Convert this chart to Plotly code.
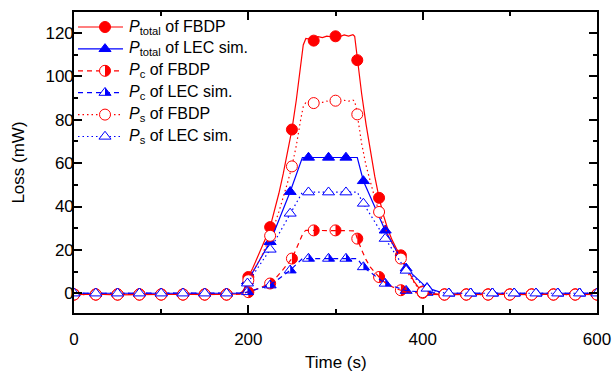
import plotly.graph_objects as go

# ---------------- data ----------------
# marker samples, FBDP (every 25 s)
t_fbdp = [0, 25, 50, 75, 100, 125, 150, 175, 200, 225, 250, 275, 300,
          325, 350, 375, 400, 425, 450, 475, 500, 525, 550, 575, 600]
ptot_fbdp = [-0.6, -0.6, -0.6, -0.6, -0.6, -0.6, -0.6, -0.6, 7.5, 30.5, 75.5, 116.5, 118.5,
             107.5, 44.0, 17.5, 0.8, -0.6, -0.6, -0.6, -0.6, -0.6, -0.6, -0.6, -0.6]
pc_fbdp = [-0.5, -0.5, -0.5, -0.5, -0.5, -0.5, -0.5, -0.5, 0.5, 4.5, 16.0, 29.0, 29.0,
           25.2, 7.5, 1.4, 0.2, -0.5, -0.5, -0.5, -0.5, -0.5, -0.5, -0.5, -0.5]
ps_fbdp = [-0.6, -0.6, -0.6, -0.6, -0.6, -0.6, -0.6, -0.6, 6.0, 26.5, 58.5, 87.7, 88.8,
           82.5, 37.5, 16.0, 0.5, -0.6, -0.6, -0.6, -0.6, -0.6, -0.6, -0.6, -0.6]

# marker samples, LEC simulation
t_lec = [0, 25, 50, 75, 100, 125, 150, 175, 199, 225, 248, 269, 292,
         312, 332, 357, 381, 405, 430, 455, 480, 505, 530, 555, 580, 600]
ptot_lec = [0, 0, 0, 0, 0, 0, 0, 0, 5.5, 23.7, 46.8, 62.6, 62.6,
            62.6, 51.8, 29.0, 11.5, 2.5, 0, 0, 0, 0, 0, 0, 0, 0]
pc_lec = [0, 0, 0, 0, 0, 0, 0, 0, 0.6, 3.7, 10.6, 16.0, 16.0,
          16.0, 12.1, 4.5, 1.2, 0.3, 0, 0, 0, 0, 0, 0, 0, 0]
ps_lec = [0, 0, 0, 0, 0, 0, 0, 0, 4.6, 20.2, 36.8, 46.6, 46.6,
          46.6, 41.4, 25.2, 10.5, 2.2, 0, 0, 0, 0, 0, 0, 0, 0]

# continuous curves, FBDP
tl_fbdp = [0, 25, 50, 75, 100, 125, 150, 175, 190, 195,
           200, 205, 210, 215, 220, 225, 230, 235, 240, 245, 250, 255, 260,
           263, 266,
           270, 275, 280, 285, 290, 295, 300, 305, 310, 315, 320,
           322, 324,
           325, 330, 335, 340, 345, 350, 355, 360, 365, 370, 375, 380, 385, 390, 395, 400, 405, 410,
           425, 450, 475, 500, 525, 550, 575, 600]
ptot_fbdp_line = [-0.6, -0.4, -0.7, -0.5, -0.6, -0.4, -0.6, -0.5, -0.3, 1.5,
                  7.5, 11.5, 16.0, 20.5, 25.5, 30.5, 38.0, 46.0, 55.0, 65.0, 75.5, 89.0, 105.0,
                  114.5, 117.5,
                  117.2, 117.8, 118.3, 117.9, 118.6, 118.3, 118.8, 118.4, 119.1, 118.6, 119.2,
                  118.5, 112.0,
                  107.5, 92.0, 78.0, 65.0, 54.0, 44.0, 36.0, 29.5, 24.5, 20.5, 17.5, 13.0, 9.0, 5.5, 2.8, 0.8, -0.2, -0.5,
                  -0.6, -0.5, -0.7, -0.5, -0.6, -0.4, -0.6, -0.5]
pc_fbdp_line = [-0.5, -0.5, -0.5, -0.5, -0.5, -0.5, -0.5, -0.5, -0.4, 0.1,
                0.5, 1.2, 2.0, 2.8, 3.6, 4.5, 6.3, 8.5, 11.0, 13.5, 16.0, 20.5, 25.5,
                28.0, 29.0,
                29.0, 29.0, 29.1, 29.0, 29.1, 29.0, 29.0, 29.1, 29.0, 29.1, 29.0,
                28.8, 26.5,
                25.2, 20.0, 15.5, 12.0, 9.5, 7.5, 5.5, 4.0, 3.0, 2.0, 1.4, 0.9, 0.5, 0.3, 0.2, 0.1, -0.2, -0.4,
                -0.5, -0.5, -0.5, -0.5, -0.5, -0.5, -0.5, -0.5]
ps_fbdp_line = [-0.6, -0.5, -0.6, -0.5, -0.6, -0.5, -0.6, -0.5, -0.3, 1.0,
                6.0, 9.5, 13.0, 17.0, 21.5, 26.5, 31.5, 37.5, 44.0, 51.0, 58.5, 68.0, 80.0,
                86.0, 88.0,
                87.8, 87.7, 88.3, 88.0, 88.6, 88.4, 88.8, 88.5, 89.0, 88.6, 89.1,
                88.5, 85.0,
                82.5, 69.0, 59.0, 51.0, 44.0, 37.5, 32.0, 27.0, 23.0, 19.5, 16.0, 12.0, 8.0, 4.8, 2.2, 0.5, -0.3, -0.5,
                -0.6, -0.5, -0.6, -0.5, -0.6, -0.5, -0.6, -0.5]

# continuous curves, LEC simulation
tl_lec = [0, 190, 194, 199, 225, 248, 262, 325, 332, 357, 381, 405, 420, 430, 600]
ptot_lec_line = [0, 0, 0.5, 5.5, 23.7, 46.8, 62.6, 62.6, 51.8, 29.0, 11.5, 2.5, 0.5, 0, 0]
pc_lec_line = [0, 0, 0.05, 0.6, 3.7, 10.6, 16.0, 16.0, 12.1, 4.5, 1.2, 0.3, 0.1, 0, 0]
ps_lec_line = [0, 0, 0.4, 4.6, 20.2, 36.8, 46.6, 46.6, 41.4, 25.2, 10.5, 2.2, 0.4, 0, 0]

# axis ticks
x_ticks = [0, 200, 400, 600]
y_ticks = [0, 20, 40, 60, 80, 100, 120]

legend_labels = ["<i>P</i><sub>total</sub> of FBDP", "<i>P</i><sub>total</sub> of LEC sim.",
                 "<i>P</i><sub>c</sub> of FBDP", "<i>P</i><sub>c</sub> of LEC sim.",
                 "<i>P</i><sub>s</sub> of FBDP", "<i>P</i><sub>s</sub> of LEC sim."]

# ---------------- styling ----------------
RED = "#FF0000"
BLUE = "#0000FF"
FONT = "Arial, 'Liberation Sans', sans-serif"
LW = 1.2
CIRC = 11          # marker size (diameter)
TRI = 10.5
DASH = "5px,4px"
DOT = "1.5px,3px"

W, H = 614, 378
ML, MR, MT, MB = 74, 17, 12, 65
PW, PH = W - ML - MR, H - MT - MB


def X(px):
    return (px - ML) / PW


def Y(py):
    return (H - MB - py) / PH


fig = go.Figure()


def add_series(tl, yl, tm, ym, color, dash, symbol, size, fill):
    fig.add_trace(go.Scatter(x=tl, y=yl, mode="lines",
                             line=dict(color=color, width=LW, dash=dash),
                             showlegend=False, hoverinfo="skip"))
    fig.add_trace(go.Scatter(x=tm, y=ym, mode="markers",
                             marker=dict(symbol=symbol, size=size, color=fill,
                                         line=dict(color=color, width=1)),
                             showlegend=False))


TRANSP = "rgba(0,0,0,0)"
add_series(tl_fbdp, ptot_fbdp_line, t_fbdp, ptot_fbdp, RED, "solid", "circle", CIRC, RED)
add_series(tl_lec, ptot_lec_line, t_lec, ptot_lec, BLUE, "solid", "triangle-up", TRI, BLUE)
add_series(tl_fbdp, pc_fbdp_line, t_fbdp, pc_fbdp, RED, DASH, "circle", CIRC, TRANSP)
add_series(tl_lec, pc_lec_line, t_lec, pc_lec, BLUE, DASH, "triangle-up", TRI, TRANSP)
add_series(tl_fbdp, ps_fbdp_line, t_fbdp, ps_fbdp, RED, DOT, "circle", CIRC, "white")
add_series(tl_lec, ps_lec_line, t_lec, ps_lec, BLUE, DOT, "triangle-up", TRI, "white")

# half-filled marker geometry (pixel units, y up)
rc = CIRC / 2.0
k = 0.5523 * rc
HALF_CIRCLE = (f"M0,{rc} C{k:.2f},{rc} {rc},{k:.2f} {rc},0 "
               f"C{rc},{-k:.2f} {k:.2f},{-rc} 0,{-rc} Z")
rt = TRI / 2.0
tw = rt * 2 / 3 ** 0.5
HALF_TRI = f"M0,{rt} L{tw:.2f},{-rt / 2:.2f} L0,{-rt / 2:.2f} Z"
FULL_TRI = f"M{-tw:.2f},{-rt / 2:.2f} L{tw:.2f},{-rt / 2:.2f} L0,{rt} Z"

shapes = []
for tx, vy in zip(t_fbdp, pc_fbdp):
    shapes.append(dict(type="path", xref="x", yref="y", xsizemode="pixel", ysizemode="pixel",
                       xanchor=tx, yanchor=vy, path=HALF_CIRCLE, fillcolor=RED,
                       line=dict(width=0), layer="below"))
for tx, vy in zip(t_lec, pc_lec):
    shapes.append(dict(type="path", xref="x", yref="y", xsizemode="pixel", ysizemode="pixel",
                       xanchor=tx, yanchor=vy, path=HALF_TRI, fillcolor=BLUE,
                       line=dict(width=0), layer="below"))

# ---------------- hand-built legend ----------------
leg_colors = [RED, BLUE, RED, BLUE, RED, BLUE]
leg_dash = ["solid", "solid", DASH, DASH, DOT, DOT]
leg_kind = ["cf", "tf", "ch", "th", "co", "to"]
annotations = []
for i, lab in enumerate(legend_labels):
    py = 27 + 21.9 * i
    c = leg_colors[i]
    shapes.append(dict(type="line", xref="paper", yref="paper", x0=X(78), x1=X(123),
                       y0=Y(py), y1=Y(py), line=dict(color=c, width=LW, dash=leg_dash[i]),
                       layer="above"))
    base = dict(xref="paper", yref="paper", xsizemode="pixel", ysizemode="pixel",
                xanchor=X(105), yanchor=Y(py), layer="above")
    kind = leg_kind[i]
    if kind[0] == "c":
        shapes.append(dict(base, type="circle", x0=-rc, x1=rc, y0=-rc, y1=rc,
                           fillcolor=c if kind[1] == "f" else "white",
                           line=dict(color=c, width=1)))
        if kind[1] == "h":
            shapes.append(dict(base, type="path", path=HALF_CIRCLE, fillcolor=c,
                               line=dict(width=0)))
    else:
        shapes.append(dict(base, type="path", path=FULL_TRI,
                           fillcolor=c if kind[1] == "f" else "white",
                           line=dict(color=c, width=1)))
        if kind[1] == "h":
            shapes.append(dict(base, type="path", path=HALF_TRI, fillcolor=c,
                               line=dict(width=0)))
    annotations.append(dict(xref="paper", yref="paper", x=X(127), y=Y(py),
                            xanchor="left", yanchor="middle", showarrow=False,
                            text=lab, font=dict(family=FONT, size=16, color="black")))

# x-axis title placed as an annotation for exact positioning
annotations.append(dict(xref="paper", yref="paper", x=0.5, y=Y(362),
                        xanchor="center", yanchor="middle", showarrow=False,
                        text="Time (s)", font=dict(family=FONT, size=17, color="black")))

axis_common = dict(showline=True, linecolor="black", linewidth=1.6, mirror="allticks",
                   ticks="inside", ticklen=8, tickwidth=1.5, tickcolor="black",
                   showgrid=False, zeroline=False, automargin=False,
                   tickfont=dict(family=FONT, size=17, color="black"))

fig.update_layout(
    width=W, height=H, autosize=False,
    margin=dict(l=ML, r=MR, t=MT, b=MB),
    paper_bgcolor="white", plot_bgcolor="white",
    font=dict(family=FONT, size=16, color="black"),
    xaxis=dict(axis_common, range=[0, 600], tickvals=x_ticks, ticklabelstandoff=10,
               minor=dict(dtick=100, ticks="inside", ticklen=4, tickwidth=1.5, tickcolor="black")),
    yaxis=dict(axis_common, range=[-9.1, 129.7], tickvals=y_ticks, ticklabelstandoff=-5,
               minor=dict(dtick=10, ticks="inside", ticklen=4, tickwidth=1.5, tickcolor="black"),
               title=dict(text="Loss (mW)", font=dict(family=FONT, size=17), standoff=16)),
    shapes=shapes, annotations=annotations, showlegend=False,
)

fig.write_html("out.html", config={"displayModeBar": False},
               post_script="document.body.style.margin='0px';document.body.style.overflow='hidden';")
